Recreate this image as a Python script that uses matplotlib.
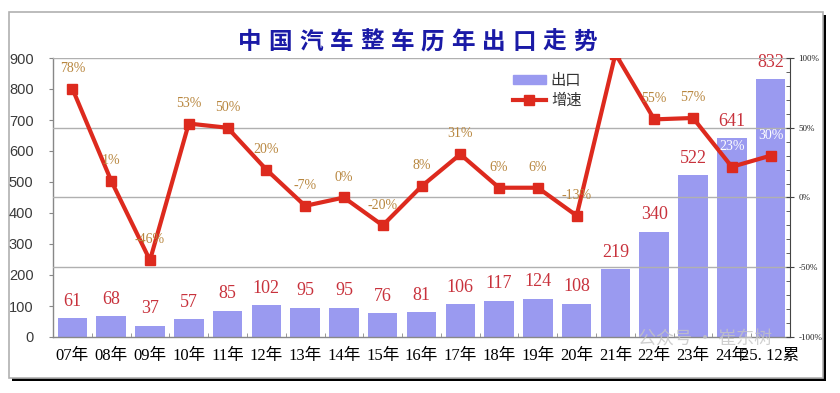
import matplotlib
matplotlib.use("Agg")
import matplotlib.pyplot as plt
from matplotlib.patches import Rectangle
from matplotlib.lines import Line2D
import numpy as np

plt.rcParams['font.family'] = ['Liberation Serif', 'Noto Sans CJK SC', 'DejaVu Sans']

categories = ["07年", "08年", "09年", "10年", "11年", "12年", "13年", "14年", "15年",
              "16年", "17年", "18年", "19年", "20年", "21年", "22年", "23年", "24年", "25. 12累"]
exports = [61, 68, 37, 57, 85, 102, 95, 95, 76, 81, 106, 117, 124, 108, 219, 340, 522, 641, 832]
growth = [78, 12, -45, 53, 50, 20, -6, 0, -20, 8, 31, 7, 7, -13, 103, 56, 57, 22, 30]
growth_labels = ["78%", "1%", "-46%", "53%", "50%", "20%", "-7%", "0%", "-20%", "8%", "31%",
                 "6%", "6%", "-13%", "", "55%", "57%", "23%", "30%"]
left_ticks = [0, 100, 200, 300, 400, 500, 600, 700, 800, 900]
right_ticks = [-100, -50, 0, 50, 100]

W, H = 840, 393
fig = plt.figure(figsize=(W / 100, H / 100), dpi=100)

# outer frame with shadow
fig.patches.append(Rectangle((12 / W, 1 - 381 / H), 814 / W, 366 / H, transform=fig.transFigure,
                             facecolor='black', edgecolor='none', zorder=0))
fig.patches.append(Rectangle((9 / W, 1 - 378 / H), 814 / W, 366 / H, transform=fig.transFigure,
                             facecolor='white', edgecolor='#b0b0b0', lw=1.2, zorder=0.5))

ax = fig.add_axes([53 / W, 1 - 337 / H, (790 - 53) / W, (337 - 58) / H])
ax.set_zorder(1)
ax.patch.set_alpha(0)
x = np.arange(len(categories))
bar_color = '#9a9af0'
ax.bar(x, exports, width=0.76, color=bar_color, zorder=2)
ax.set_xlim(-0.5, len(categories) - 0.5)
ax.set_ylim(0, 900)
ax.set_yticks(left_ticks)
ax.set_yticklabels([str(t) for t in left_ticks], fontsize=10.5, color='#3a3a3a',
                   family=['Liberation Sans', 'DejaVu Sans'])
ax.tick_params(axis='y', length=3, color='#888888', pad=11)
ax.set_xticks(x)
ax.set_xticklabels(categories, fontsize=12, color='black')
ax.tick_params(axis='x', length=0, pad=8)
ax.set_xticks(np.arange(-0.5, len(categories), 1), minor=True)
ax.tick_params(axis='x', which='minor', direction='in', length=3, color='#888888')
for s in ['top', 'right']:
    ax.spines[s].set_visible(False)
for s in ['left', 'bottom']:
    ax.spines[s].set_color('#888888')
    ax.spines[s].set_linewidth(1.0)

for xi, v in zip(x, exports):
    ax.annotate(str(v), (xi, v), xytext=(0, 6), textcoords='offset points',
                ha='center', va='bottom', fontsize=13, color='#c8323c', zorder=5)

ax2 = ax.twinx()
ax2.set_zorder(2)
ax2.patch.set_alpha(0)
ax2.set_ylim(-100, 100)
ax2.set_yticks(right_ticks)
ax2.set_yticklabels([f"{t}%" for t in right_ticks], fontsize=6.5, color='#222222')
ax2.set_yticks(np.arange(-100, 101, 10), minor=True)
ax2.tick_params(axis='y', which='major', direction='inout', length=6, color='#444444', pad=3)
ax2.tick_params(axis='y', which='minor', direction='in', length=3, color='#444444')
for s in ['top', 'left', 'bottom']:
    ax2.spines[s].set_visible(False)
ax2.spines['right'].set_color('#444444')
for t in right_ticks[1:]:
    ax2.axhline(t, color='#b0b0b0', lw=1.0, zorder=0.5)

line_color = '#dd2a1e'
ax2.plot(x, growth, color=line_color, lw=3, marker='s', markersize=7.5, zorder=3)
for xi, v, lab in zip(x, growth, growth_labels):
    if not lab:
        continue
    c = 'white' if xi >= len(categories) - 2 else '#b8863e'
    ax2.annotate(lab, (xi, v), xytext=(0, 10), textcoords='offset points',
                 ha='center', va='bottom', fontsize=10, color=c, zorder=6)

handles = [Rectangle((0, 0), 1, 1, color=bar_color),
           Line2D([], [], color=line_color, lw=3, marker='s', markersize=7.5)]
leg = ax2.legend(handles, ["出口", "增速"], loc='upper left', bbox_to_anchor=(0.605, 1.0),
                 frameon=False, prop={'family': ['Noto Sans CJK SC'], 'size': 11},
                 handlelength=2.2, handleheight=0.5, handletextpad=0.3, labelspacing=0.2,
                 numpoints=1)
for t in leg.get_texts():
    t.set_color('#333333')

# title, spaced characters
title = "中国汽车整车历年出口走势"
n = len(title)
x0, x1 = 250, 585
for i, ch in enumerate(title):
    cx = x0 + (x1 - x0) * i / (n - 1)
    fig.text(cx / W, 1 - 42 / H, ch, ha='center', va='center', fontsize=17, fontweight='bold',
             color='#1a1aa6', family=['Noto Sans CJK SC'])

# watermark
fig.text(705 / W, 1 - 340 / H, "公众号 · 崔东树", ha='center', va='center', fontsize=13,
         color='#c4c4c4', alpha=0.8, family=['Noto Sans CJK SC'], zorder=10)

fig.savefig("out.png", dpi=100)
